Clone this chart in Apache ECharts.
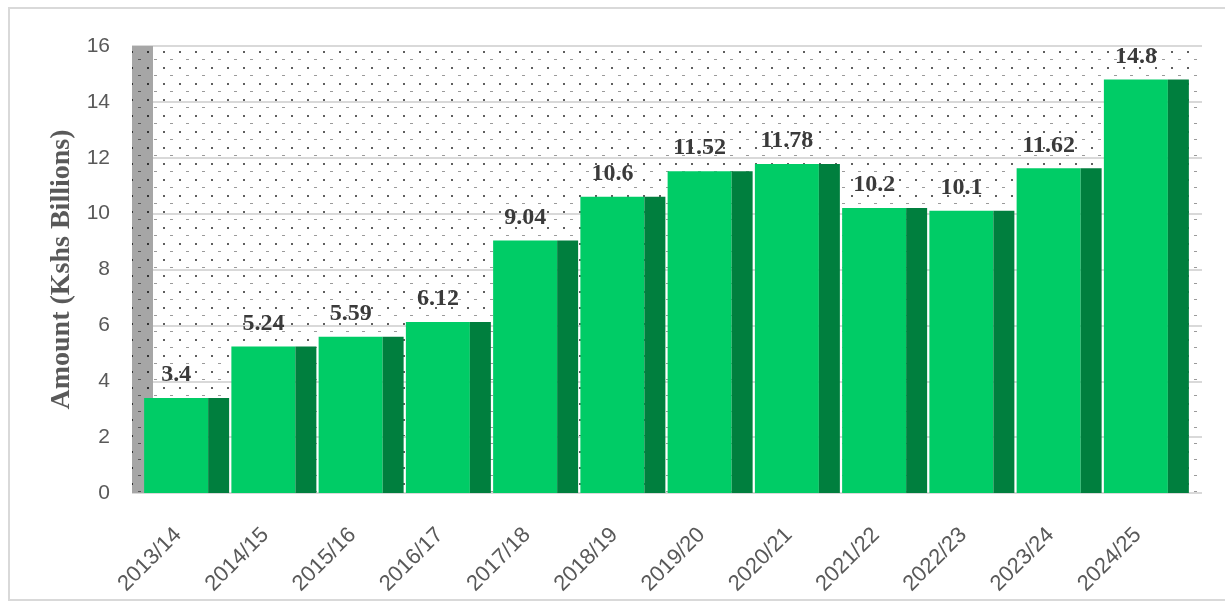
<!DOCTYPE html>
<html><head><meta charset="utf-8">
<script src="https://cdn.jsdelivr.net/npm/echarts@6/dist/echarts.min.js"></script>
<style>html,body{margin:0;padding:0;background:#fff}#c{width:1225px;height:604px}</style>
</head><body><div id="c"></div>
<script>
const categories = ['2013/14','2014/15','2015/16','2016/17','2017/18','2018/19','2019/20','2020/21','2021/22','2022/23','2023/24','2024/25'];
const amounts = [3.4, 5.24, 5.59, 6.12, 9.04, 10.6, 11.52, 11.78, 10.2, 10.1, 11.62, 14.8];
const yMin = 0, yMax = 16, yStep = 2;
const axisTitle = 'Amount (Kshs Billions)';

function makePattern(bg, dark, light) {
  const c = document.createElement('canvas');
  c.width = 16; c.height = 16;
  const g = c.getContext('2d');
  g.fillStyle = bg; g.fillRect(0, 0, 16, 16);
  g.fillStyle = dark;
  g.fillRect(3, 3, 2, 2);
  g.fillStyle = light;
  g.fillRect(10, 11, 3, 1);
  return c;
}
const plotPattern = makePattern('#ffffff', '#5f5f5f', '#9a9a9a');
const wallPattern = makePattern('#a6a6a6', '#333333', '#555555');

const chart = echarts.init(document.getElementById('c'), null, {renderer: 'canvas'});
chart.setOption({
  animation: false,
  backgroundColor: '#ffffff',
  grid: [
    {left: 132, right: 23, top: 46, bottom: 111, show: true, borderWidth: 0,
     backgroundColor: {image: plotPattern, repeat: 'repeat'}},
    {left: 143, right: 35, top: 46, bottom: 111}
  ],
  xAxis: [
    {gridIndex: 0, type: 'category', data: categories, show: false},
    {gridIndex: 1, type: 'category', data: categories,
     axisLine: {show: false}, axisTick: {show: false},
     axisLabel: {interval: 0, rotate: 45, fontSize: 22, color: '#595959',
                 fontFamily: 'Liberation Sans', margin: 30, padding: [0, 12, 0, 0]}}
  ],
  yAxis: [
    {gridIndex: 0, type: 'value', min: yMin, max: yMax, interval: yStep,
     axisLine: {show: false}, axisTick: {show: false},
     splitLine: {show: true, lineStyle: {color: '#d9d9d9', width: 2}},
     axisLabel: {fontSize: 21, color: '#595959', fontFamily: 'Liberation Sans', margin: 22},
     name: axisTitle, nameLocation: 'middle', nameGap: 51,
     nameTextStyle: {fontSize: 28, fontWeight: 'bold', fontFamily: 'Liberation Serif', color: '#595959'}},
    {gridIndex: 1, type: 'value', min: yMin, max: yMax, interval: yStep, show: false,
     splitLine: {show: false}}
  ],
  graphic: [
    {type: 'rect', z: 1, shape: {x: 132, y: 46, width: 21, height: 447},
     style: {fill: {image: wallPattern, repeat: 'repeat'}}},
    {type: 'rect', z: 100, shape: {x: 9, y: 8, width: 1240, height: 592},
     style: {fill: 'none', stroke: '#d9d9d9', lineWidth: 2}}
  ],
  series: [
    {type: 'bar', name: 'front', xAxisIndex: 1, yAxisIndex: 1, data: amounts,
     barWidth: 64, barGap: '0%', z: 3,
     itemStyle: {color: '#00cc66'},
     label: {show: true, position: 'top', distance: 11, fontSize: 24, fontWeight: 'bold',
             fontFamily: 'Liberation Serif', color: '#3a3a3a'}},
    {type: 'bar', name: 'side', xAxisIndex: 1, yAxisIndex: 1, data: amounts,
     barWidth: 21, z: 3,
     itemStyle: {color: '#007f3e'}}
  ]
});
</script>
</body></html>
